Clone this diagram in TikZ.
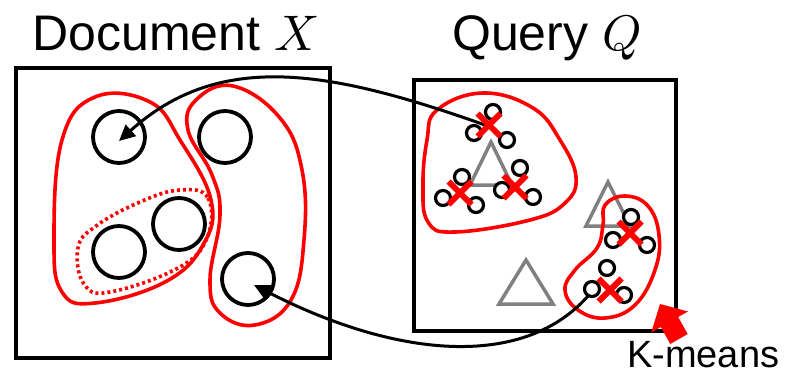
\documentclass[tikz,border=0pt]{standalone}
\usepackage{fontspec}
\setmainfont{Liberation Sans}
\usetikzlibrary{arrows.meta}
\definecolor{kred}{RGB}{255,0,0}
\definecolor{kgray}{RGB}{128,128,128}
\newcommand{\bigmath}[1]{\scalebox{5}{\fontsize{10}{12}\selectfont$#1$}}
\tikzset{
  frame/.style={draw=black, line width=4pt},
  bigdot/.style={circle, draw=black, line width=3.8pt, minimum size=52pt, inner sep=0pt},
  smalldot/.style={circle, draw=black, line width=3.2pt, minimum size=15pt, inner sep=0pt, fill=white},
  blob/.style={draw=kred, line width=3.6pt},
  tri/.style={draw=kgray, line width=3.5pt, line join=miter},
  xmark/.style={draw=kred, line width=6pt},
  conn/.style={draw=black, line width=3pt, -{Triangle[length=16pt,width=15pt]}},
  title/.style={font=\fontsize{50}{55}\selectfont, anchor=base, inner sep=0pt},
}
\begin{document}
\begin{tikzpicture}[x=1pt,y=-1pt]
\useasboundingbox (0,0) rectangle (788,375);
% titles
\node[title] (tdoc) at (176,50) {Document \bigmath{X}};
\node[title] (tq) at (547,50) {Query \bigmath{Q}};
\node[font=\fontsize{38}{40}\selectfont, anchor=base west, inner sep=0pt] (km) at (627,367) {K-means};
% frames
\draw[frame] (16,68) rectangle (330,358);
\draw[frame] (414,80) rectangle (676,331);
% left blobs
\draw[blob] plot[smooth cycle, tension=0.7] coordinates {(95,97) (150,102) (180,140) (211,200) (203,245) (165,282) (95,303) (62,292) (54,240) (62,140)};
\draw[blob] plot[smooth cycle, tension=0.7] coordinates {(233,86) (280,118) (302,170) (304,240) (291,300) (255,325) (220,313) (210,280) (220,215) (212,175) (188,130) (196,100)};
\draw[kred, line width=3.6pt, dash pattern=on 3pt off 3pt] plot[smooth cycle, tension=0.7] coordinates {(180,190) (208,198) (207,238) (178,268) (110,292) (84,284) (78,248) (96,226) (140,202)};
% document circles
\node[bigdot] (d1) at (119,137) {};
\node[bigdot] (d2) at (225,137) {};
\node[bigdot] (d3) at (179,224) {};
\node[bigdot] (d4) at (119,252) {};
\node[bigdot] (d5) at (248,279) {};
% triangles
\draw[tri] (491,142) -- (512,185) -- (470,185) -- cycle;
\draw[tri] (608,182) -- (630,226) -- (586,226) -- cycle;
\draw[tri] (526,260) -- (553,304) -- (499,304) -- cycle;
% right blobs
\draw[blob] plot[smooth cycle, tension=0.7] coordinates {(437,110) (483,93) (533,108) (560,140) (576,177) (565,203) (530,220) (455,232) (428,222) (423,185) (427,140)};
\draw[blob] plot[smooth cycle, tension=0.7] coordinates {(605,205) (625,196) (648,206) (659,235) (655,270) (635,305) (605,318) (578,310) (565,290) (575,270) (597,248) (603,225)};
% cluster centres
\coordinate (c1) at (489,125);
\coordinate (c2) at (460,193);
\coordinate (c3) at (515,187);
\coordinate (c4) at (630,233);
\coordinate (c5) at (610,290);
\coordinate (s1) at (485,125);
\coordinate (s2) at (593,290);
\coordinate (e1) at (119,141);
\coordinate (e2) at (254,285);
% connectors
\draw[conn] (s1) .. controls (330,70) and (220,50) .. (e1);
\draw[conn] (s2) .. controls (530,370) and (400,360) .. (e2);
% query points
\node[smalldot] (q11) at (493,112) {};
\node[smalldot] (q12) at (474,133) {};
\node[smalldot] (q13) at (507,140) {};
\node[smalldot] (q21) at (462,177) {};
\node[smalldot] (q22) at (443,198) {};
\node[smalldot] (q23) at (476,205) {};
\node[smalldot] (q31) at (520,168) {};
\node[smalldot] (q32) at (502,190) {};
\node[smalldot] (q33) at (533,197) {};
\node[smalldot] (q41) at (631,217) {};
\node[smalldot] (q42) at (613,240) {};
\node[smalldot] (q43) at (647,245) {};
\node[smalldot] (q51) at (607,268) {};
\node[smalldot] (q52) at (592,289) {};
\node[smalldot] (q53) at (624,295) {};
% centroids
\foreach \c in {c1,c2,c3,c4,c5}{
  \draw[xmark] (\c) +(-11.5,-11.5) -- +(11.5,11.5) (\c) +(-11.5,11.5) -- +(11.5,-11.5);
}
% K-means arrow
\fill[kred] (660,304) -- (688,311.5) -- (678.2,317) -- (687.7,334) -- (670.3,344) -- (660.8,327) -- (651.2,332.5) -- cycle;
\end{tikzpicture}
\end{document}
